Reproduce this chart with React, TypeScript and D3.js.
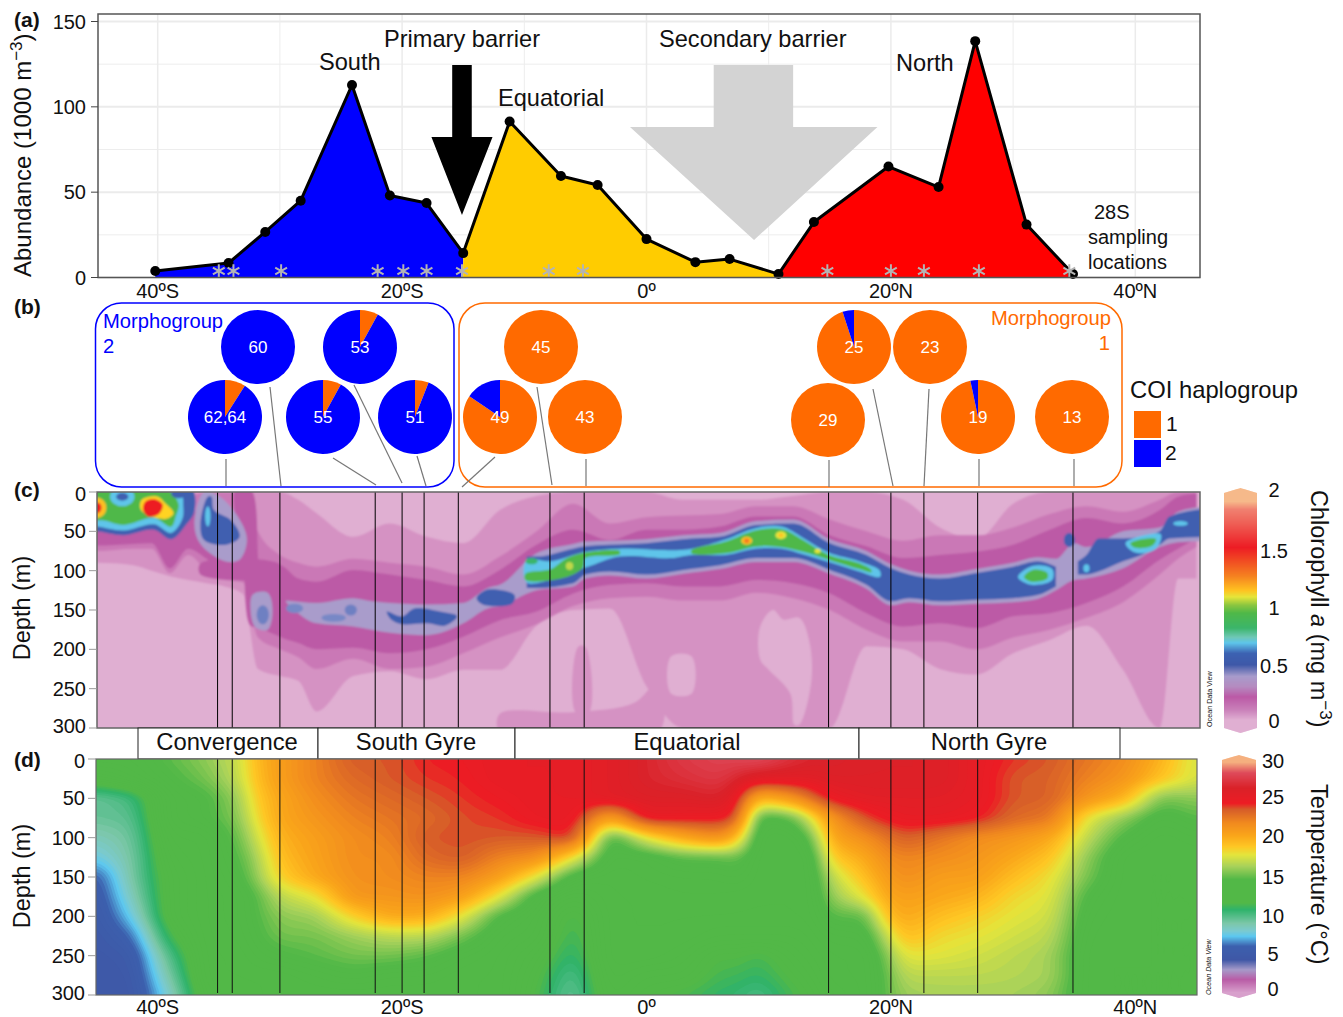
import React from "react";
import * as d3 from "d3";

const FONT = "'Liberation Sans', Arial, sans-serif";
const BLUE = "#0000FF";
const ORANGE = "#FF6A00";

// Panel (a): abundance per station
const abundanceLat = [-40.2, -34.2, -31.2, -28.3, -24.1, -21, -18, -15, -11.2, -7, -4, 0, 4, 6.8, 10.8, 13.7, 19.8, 23.9, 26.9, 31.1, 34.9];
const abundanceVal = [3.8, 8.5, 26.7, 45, 112.8, 48, 43.6, 14.3, 91.4, 59.5, 54.2, 22.5, 9, 10.8, 2, 32.5, 65, 53, 138.5, 31, 2];
const groupBreaks = [{ from: 0, to: 7, color: "#0000FF" }, { from: 7, to: 14, color: "#FFCC00" }, { from: 14, to: 20, color: "#FF0000" }];
const sampledLat = [-35, -33.8, -29.9, -22, -19.9, -18, -15.1, -8, -5.2, 14.8, 20, 22.7, 27.2, 34.6];
const stationLinesC = [-35.1, -33.9, -30, -22.2, -20, -18.2, -15.4, -7.9, -5.1, 14.9, 20, 22.7, 27.1, 34.9];
const primaryArrow: [number, number][] = [[-15.9, 124.5], [-14.3, 124.5], [-14.3, 82.3], [-12.6, 82.3], [-15.1, 36.6], [-17.6, 82.3], [-15.9, 82.3]];
const secondaryArrow: [number, number][] = [[5.5, 124.5], [12, 124.5], [12, 88.2], [18.9, 88.2], [8.8, 22], [-1.35, 88.2], [5.5, 88.2]];
const abundanceTicks = [0, 50, 100, 150];
const abundanceMinor = [25, 75, 125];
const latTicks = [-40, -20, 0, 20, 40];
const latTickLabels = ["40ºS", "20ºS", "0º", "20ºN", "40ºN"];
const latMinor = [-30, -10, 10, 30];
const depthTicks = [0, 50, 100, 150, 200, 250, 300];

// Panel (b): haplogroup pies (share of haplogroup 1, haplogroup 2)
const pieLabels = ["60", "53", "62,64", "55", "51", "45", "49", "43", "25", "23", "29", "19", "13"];
const pieShare1 = [0, 0.08, 0.09, 0.08, 0.06, 1, 0.845, 1, 0.95, 1, 1, 0.967, 1];
const pieCx = [258, 360, 225, 323, 415, 541, 500, 585, 854, 930, 828, 978, 1072];
const pieCy = [347, 347, 417, 417, 417, 347, 417, 417, 347, 347, 420, 417, 417];
const leaders = [
  [226, 459, 226, 486], [270, 387, 281, 486], [354, 385, 402, 483], [333, 458, 376, 485], [417, 456, 426, 486],
  [495, 457, 462, 487], [537, 387, 552, 485], [586, 459, 586, 486], [829, 460, 829, 487], [873, 389, 893, 486],
  [929, 389, 924, 486], [979, 459, 979, 486], [1074, 459, 1074, 486],
];

// Panel (c): chlorophyll contour ribbons (depth in m at each latitude)
const chlLat = [-46, -45, -42, -40.5, -39, -37.5, -36, -34.5, -33, -31.8, -30, -28.5, -27, -24, -21, -18, -15, -12, -9, -6, -3, 0, 3, 6, 9, 12, 15, 18, 21, 24, 27, 30, 33, 36, 39, 42, 43.5, 45];
const chlL1Top = [0, 0, 0, 0, 0, 0, 0, 0, 0, 0, 0, 10, 27, 57, 40, 57, 65, 23, 5, 0, 0, 0, 10, 10, 10, 5, 0, 0, 10, 45, 60, 15, 0, 0, 0, 0, 0, 0];
const chlL1Bot = [90, 90, 93, 100, 107, 112, 116, 120, 130, 225, 234, 240, 279, 234, 228, 238, 226, 226, 170, 150, 148, 247, 300, 300, 300, 300, 300, 196, 200, 225, 232, 205, 188, 170, 226, 300, 110, 110];
const chlL2Top = [5, 5, 5, 5, 5, 5, 0, 0, 0, 50, 80, 90, 95, 85, 90, 95, 105, 82, 50, 15, 40, 32, 30, 28, 18, 18, 35, 50, 62, 55, 55, 45, 28, 18, 25, 10, 0, 0];
const chlL2Bot = [75, 75, 72, 72, 103, 80, 100, 112, 115, 185, 200, 210, 225, 212, 225, 222, 205, 185, 168, 145, 135, 133, 138, 138, 128, 135, 150, 175, 190, 190, 200, 185, 175, 160, 140, 105, 85, 70];
const chlL3Top = [30, 30, 30, 30, 30, 30, 15, 20, 70, 92, 93, 110, 114, 99, 105, 112, 120, 99, 67, 48, 61, 48, 48, 44, 31, 31, 55, 69, 84, 80, 76, 67, 48, 33, 40, 23, 6, 2];
const chlL3Bot = [68, 68, 66, 65, 97, 72, 85, 105, 107, 167, 184, 192, 200, 198, 205, 200, 184, 163, 152, 129, 118, 116, 120, 120, 112, 116, 129, 154, 171, 167, 173, 158, 154, 141, 120, 86, 72, 59];

const lavLat = [-29.5, -27, -24, -22.5, -21, -18, -15, -13, -12, -9, -6, -5, -3, 0, 3, 6, 9, 12, 15, 18, 20, 21.5, 24, 27, 30, 32, 33.5, 35, 36, 39, 42, 43.5, 46];
const lavTop = [138, 141, 135, 139, 141, 143, 141, 122, 118, 78, 66, 63, 62, 60, 55, 52, 37, 35, 60, 75, 92, 100, 105, 98, 90, 83, 85, 65, 70, 50, 45, 25, 18];
const lavBot = [140, 167, 171, 175, 179, 182, 167, 148, 145, 125, 120, 110, 106, 110, 104, 98, 89, 89, 104, 123, 144, 140, 144, 142, 140, 136, 125, 112, 110, 97, 70, 64, 62];

const blueWLat = [-9.8, -9, -6, -5, -3, 0, 3, 6, 9, 12, 15, 18, 20, 21.5, 24, 27, 30, 32, 33.5];
const blueWTop = [82, 82, 72, 69, 67, 65, 60, 57, 42, 40, 65, 80, 97, 105, 110, 103, 95, 88, 95];
const blueWBot = [122, 122, 116, 105, 101, 105, 99, 93, 84, 84, 99, 118, 139, 135, 139, 137, 135, 131, 120];
const blueELat = [35.3, 36, 37, 39, 40.5, 42, 42.8, 46];
const blueETop = [88, 80, 59, 59, 57, 50, 31, 21];
const blueEBot = [105, 105, 101, 88, 80, 67, 59, 57];

const gyreBlob: [number, number][] = [[-21.25, 152], [-20, 158], [-19, 148], [-16.9, 152], [-15.5, 158], [-16.5, 170], [-17.9, 167], [-20, 168], [-20.9, 162]];
const tinyBlob: [number, number][] = [[-13.9, 135], [-13, 124], [-10.8, 131], [-11, 142], [-13.4, 143]];
const lavHalo: [number, number][] = [[-36.2, 0], [-37, 40], [-36.5, 66], [-34.5, 88], [-33.3, 86], [-32.7, 60], [-33.5, 30], [-35, 5]];
const bigBlue: [number, number][] = [[-35.9, 6], [-36.5, 40], [-36.2, 61], [-34.4, 67], [-33.3, 57], [-34, 36], [-35.4, 23], [-35.6, 6]];
const magentaStrip: [number, number][] = [[-33.6, -4], [-32.4, -4], [-31.8, 80], [-31.8, 170], [-32.4, 170], [-33, 90]];
const magentaShelf: [number, number][] = [[-36.5, 91], [-30, 92], [-30, 106], [-36.5, 105]];
const lavGyreDot: [number, number][] = [[-32.2, 130], [-31, 128], [-30.6, 150], [-31, 175], [-32, 172], [-32.4, 150]];

const topLeftBlue: [number, number][] = [[-46, -6], [-37.3, -6], [-37, 25], [-37.6, 40], [-38.9, 60], [-40.3, 48], [-42.8, 55], [-45, 50], [-46, 50]];
const topLeftCyan: [number, number][] = [[-46, -6], [-38.3, -6], [-37.9, 20], [-38, 35], [-38.9, 52], [-40.3, 41], [-42.8, 49], [-45, 44], [-46, 44]];
const topLeftGreen: [number, number][] = [[-46, -6], [-39.5, -6], [-38.3, 15], [-38.5, 30], [-38.9, 44], [-40.3, 33], [-42.8, 42], [-44.5, 36], [-46, 36]];
const topLeftYellow: [number, number][] = [[-41.3, 10], [-40, 6], [-39.4, 14], [-38.7, 27], [-39.3, 34], [-40.7, 30], [-41.4, 22]];
const topLeftRed: [number, number][] = [[-41, 12], [-40.3, 9], [-39.6, 16], [-39.9, 28], [-40.8, 31], [-41.2, 22]];

const eqCyan: [number, number][] = [[-9.8, 86], [-7.8, 88], [-5, 76], [-2.2, 72], [2, 74], [3.7, 72], [6.5, 60], [8.9, 46], [11.05, 44], [12.8, 58], [14.9, 77], [17.4, 88], [19.1, 100], [19.1, 108], [17.4, 101], [14.9, 89], [12.8, 79], [11.05, 72], [8.9, 72], [6.5, 80], [3.7, 80], [2, 84], [-2.2, 82], [-5, 96], [-9.8, 115]];
const eqGreen: [number, number][] = [[3.68, 74], [6.5, 63], [8.9, 49], [11.05, 47], [12.8, 61], [14.9, 80], [17.4, 90.5], [18.4, 99], [18.4, 102], [17.4, 98], [14.9, 86], [12.8, 76], [10.7, 69.5], [8.9, 69.5], [6.5, 78], [3.68, 78]];
const eqGreenW: [number, number][] = [[-9.9, 104], [-7.8, 98], [-6.5, 84], [-5, 77], [-2.2, 75], [-2.2, 79], [-5, 84], [-5.2, 96], [-6.5, 108], [-9.9, 112]];
const northCyan: [number, number][] = [[30.4, 108], [31.6, 94], [33.2, 98], [33.2, 112], [31.5, 118]];
const northGreen: [number, number][] = [[30.9, 108], [31.6, 99], [32.8, 103], [32.8, 110], [31.5, 114]];
const farNorthCyan: [number, number][] = [[39.2, 65], [41, 54], [42.1, 54], [41.7, 72], [40, 77]];
const farNorthGreen: [number, number][] = [[39.6, 65], [41, 59], [41.7, 60], [41.4, 68], [40, 71]];

type Dot = [number, number, number, number, string];
const chlDots: Dot[] = [
  [-31.4, 156, 0.5, 12, "#6E80C2"], [-28.8, 148, 0.7, 6, "#7888C6"], [-25.6, 160, 1, 5, "#7888C6"], [-24.2, 150, 0.5, 7, "#6E80C2"],
  [-35.9, 31, 0.22, 13, "#5EC5EA"], [-42.9, 6, 1, 12, "#5EC5EA"], [-42.9, 6, 0.5, 5, "#3F5FB0"], [-38.3, 2, 0.6, 6, "#3F5FB0"],
  [-45, 20, 0.8, 13, "#FFC020"], [-45, 20, 0.4, 7, "#ED1C24"],
  [34.6, 61, 0.45, 9, "#3F5FB0"], [36, 97, 0.25, 5, "#5EC5EA"], [43.7, 40, 0.6, 3, "#5EC5EA"],
  [-9.4, 88, 0.5, 4, "#3BB56A"], [-6.3, 94, 0.3, 5, "#BFD84A"],
  [8.2, 62, 0.45, 5, "#FFC020"], [8.2, 62, 0.22, 3, "#F47A20"], [11, 55, 0.45, 5, "#E5E53A"], [11, 55, 0.2, 2.5, "#FFC020"], [14, 75, 0.25, 3, "#E5E53A"],
];
const lightPatches: [number, number][][] = [
  [[9.3, 171], [10.35, 150], [11.2, 162], [12.5, 160], [13.3, 188], [13.5, 239], [12.5, 296], [12.1, 296], [11.76, 256], [10, 226], [9.3, 213]],
  [[2, 209], [3.7, 209], [3.7, 256], [2, 256]],
];
const pinkPatches: [number, number][][] = [
  [[-12, 282], [-6, 280], [-1, 268], [1, 240], [1, 305], [-12, 305]],
  [[-5.6, 197], [-5, 197], [-4.7, 280], [-5.8, 280]],
];

// Panel (d): temperature (deg C); one profile per listed latitude
const tempDepths = [0, 25, 50, 75, 100, 125, 150, 175, 200, 225, 250, 275, 300];
const tempLat = [-45, -42, -39, -36, -33, -32.2, -30, -27, -24, -21, -18, -15, -12, -9, -6, -3, 0, 3, 6, 7.5, 9, 12, 13.5, 15, 18, 19.5, 21, 24, 27, 30, 33, 36, 39, 42, 45];
const tempProfiles: number[][] = [
  [13.5, 12, 9, 9, 8, 7, 5, 4.5, 4.3, 4.2, 4.1, 4, 4],
  [13.5, 13, 9.8, 9.2, 8.8, 8.6, 8.6, 8, 7, 5.5, 4.5, 4.2, 4],
  [14.5, 14, 13.5, 13.5, 13, 12.5, 12, 12, 12, 11, 9.5, 8.5, 7.5],
  [15.5, 15, 14, 14, 13, 13, 13, 13, 13, 13, 13, 13, 12.5],
  [17, 16.8, 16, 15.5, 15, 14.5, 14, 13.5, 13.5, 13.3, 13, 13, 13],
  [19, 18.7, 18.2, 17.5, 16.5, 15.5, 15, 14, 14, 13.8, 13.5, 13, 13],
  [20.5, 20.5, 20, 20, 19.5, 19, 18.3, 16.5, 15.5, 15, 14, 13, 13],
  [22, 22, 21.5, 21, 20.5, 20.3, 20, 17.6, 15.8, 15, 14.5, 13.5, 13],
  [23.5, 23, 22.5, 22, 21.5, 21.5, 21.3, 21, 18.3, 15.8, 15, 14, 13],
  [23.5, 23.5, 23, 22.5, 22, 21.5, 21.5, 21, 20, 16.5, 15, 13.5, 13],
  [24.3, 24, 23.5, 23, 23.5, 23, 22, 21.3, 19.8, 16.5, 14.5, 13.5, 13],
  [24.5, 24.3, 24, 23.7, 23.7, 23.5, 22, 20.5, 17.5, 15, 13.5, 13, 13],
  [25, 25, 24.5, 24, 23.5, 22, 20.5, 17.5, 14, 13.2, 13, 13, 13],
  [25, 25, 25, 24.8, 23.5, 21.5, 17.5, 13.5, 13, 12.8, 12, 11.5, 11.2],
  [25, 25, 25, 25, 24.3, 17.8, 13.5, 12, 10.8, 10.4, 10, 9.3, 8.8],
  [25.5, 25.5, 25.5, 20, 13.5, 13.3, 13, 13, 13, 13, 13, 12.8, 12.5],
  [26.5, 26.5, 26, 25, 17.5, 13.5, 13.3, 13, 13, 13, 13, 12, 11.5],
  [27.5, 27, 26, 24.7, 20, 14.5, 13.5, 13.2, 13, 13, 12.5, 12, 11],
  [28, 27.5, 26.5, 24.6, 21.5, 14.5, 13.5, 13.2, 13, 12.5, 11.2, 10.8, 10.3],
  [28, 26.5, 25, 24, 19, 15, 14, 13, 13, 12.5, 11.5, 10.8, 10.2],
  [28.5, 25.5, 19, 13.5, 13, 13, 13, 13, 13, 12.5, 10.8, 10.3, 9.5],
  [27, 25.5, 21, 14.5, 13, 13, 13, 13, 13, 12.5, 12, 11.5, 11],
  [26.5, 25.5, 23, 17.5, 14.5, 13, 13, 13, 13, 12.8, 12.5, 12, 11.5],
  [26.5, 26, 24.7, 21, 20, 18.5, 16.5, 15.5, 14.5, 13.5, 13, 13, 12.5],
  [26, 26, 25.5, 23.8, 21.5, 20, 19.2, 17.8, 14.5, 13.5, 13, 13, 13],
  [26, 26, 25.5, 24.5, 22.5, 21.5, 20.5, 20, 19, 16.5, 15, 14.5, 14.5],
  [26, 26, 25.5, 25, 23.5, 22, 21.5, 20.5, 20, 19.2, 17.6, 16.5, 15.8],
  [26, 26, 25.5, 25, 22.5, 21.5, 20.5, 20, 19, 18, 17.4, 16.5, 16],
  [25, 25, 25, 24.5, 21.5, 21, 20.5, 19.5, 18.3, 17.6, 17, 16.5, 16],
  [24, 23.5, 23.5, 23, 21, 20, 19, 18, 17.5, 17, 16.5, 16.3, 16],
  [23.5, 23.3, 23.3, 22.5, 20, 18.8, 17.8, 17.4, 17, 16.5, 16, 16, 15.5],
  [22.5, 22, 21, 17.5, 16.5, 15.5, 15, 14, 13.5, 13.2, 13, 13, 13],
  [21.5, 21, 19.5, 15.5, 14, 13, 13, 13, 13, 13, 13, 13, 13],
  [19.5, 18.8, 15, 13.5, 13, 13, 13, 13, 13, 13, 13, 13, 13],
  [17, 17, 15.5, 14.5, 13.5, 13, 13, 13, 13, 13, 13, 13, 13],
];

// Colour bars
const chlStops = [-0.1, 0.0, 0.09, 0.2, 0.29, 0.38, 0.48, 0.58, 0.67, 0.72, 0.8, 0.93, 1.0, 1.07, 1.13, 1.25, 1.5, 1.71, 1.83, 1.9, 2.1];
const chlColors = ["#E0AFD2", "#E0AFD2", "#C97FB9", "#BB59A6", "#B58BC0", "#A79BCB", "#3E58A8", "#3C62B2", "#5EC5EA", "#6FC7B5", "#3BB56A", "#4FB848", "#8CC63F", "#E5E53A", "#FFC020", "#F58220", "#ED1C24", "#EF5F55", "#F08070", "#F6B98A", "#F6B98A"];
const tempStops = [-1.5, -0.6, 1.1, 2.4, 3.7, 5.5, 6.8, 7.5, 8.5, 10.3, 11.2, 14.3, 16, 17.5, 18.6, 20, 21.7, 23.5, 24.3, 26.3, 28.3, 29.7, 31];
const tempColors = ["#D8A0CC", "#D8A0CC", "#B95CA6", "#A69AC9", "#3F57A6", "#3C60AE", "#5CC8F0", "#7BCAD0", "#7CC7A8", "#2FB36B", "#52B847", "#52B847", "#A7D15A", "#E3E53C", "#FEC724", "#FAA61A", "#F18A1E", "#D65C29", "#ED1C24", "#DA2128", "#DE4A5A", "#F5B07F", "#F5B07F"];
const chlBarLabels = ["2", "1.5", "1", "0.5", "0"];
const chlBarLabelY = [490, 551, 608, 666, 721];
const tempBarLabels = ["30", "25", "20", "15", "10", "5", "0"];
const tempBarLabelY = [761, 797, 836, 877, 916, 954, 989];

const regions = [
  { name: "Convergence", x0: 138, x1: 318, cx: 227 },
  { name: "South Gyre", x0: 318, x1: 515, cx: 416 },
  { name: "Equatorial", x0: 515, x1: 859, cx: 687 },
  { name: "North Gyre", x0: 859, x1: 1120, cx: 989 },
];

const x = d3.scaleLinear().domain([0, 20]).range([646.5, 890.9]);
const yA = d3.scaleLinear().domain([0, 150]).range([277.5, 21.5]);
const yC = d3.scaleLinear().domain([0, 300]).range([492, 728]);
const yD = d3.scaleLinear().domain([0, 300]).range([759, 995]);
const chlColor = d3.scaleLinear<string>().domain(chlStops).range(chlColors);
const tempColor = d3.scaleLinear<string>().domain(tempStops).range(tempColors);

function band(lats: number[], top: number[], bot: number[]) {
  const idx = d3.range(lats.length);
  return d3.area<number>().x((i) => x(lats[i])).y0((i) => yC(top[i])).y1((i) => yC(bot[i])).curve(d3.curveMonotoneX)(idx) || "";
}
function blob(pts: [number, number][]) {
  return d3.line<[number, number]>().x((p) => x(p[0])).y((p) => yC(p[1])).curve(d3.curveCatmullRomClosed.alpha(0.5))(pts) || "";
}

function tempContours() {
  const nx = 361; // 0.25 degree render grid
  const ny = 121; // 2.5 m render grid
  const vals = new Float64Array(nx * ny);
  const latAt = (i: number) => -45 + i * 0.25;
  for (let j = 0; j < ny; j++) {
    const depth = j * 2.5;
    const j0 = Math.min(Math.floor(depth / 25), tempDepths.length - 2);
    const ty = (depth - tempDepths[j0]) / 25;
    for (let i = 0; i < nx; i++) {
      const lat = latAt(i);
      const i0 = Math.max(0, Math.min(d3.bisectRight(tempLat, lat) - 1, tempLat.length - 2));
      const tx = (lat - tempLat[i0]) / (tempLat[i0 + 1] - tempLat[i0]);
      const a = tempProfiles[i0][j0] * (1 - ty) + tempProfiles[i0][j0 + 1] * ty;
      const b = tempProfiles[i0 + 1][j0] * (1 - ty) + tempProfiles[i0 + 1][j0 + 1] * ty;
      vals[j * nx + i] = a * (1 - tx) + b * tx;
    }
  }
  d3.blur2({ data: vals, width: nx, height: ny }, 2.5, 1.6);
  const thresholds = d3.range(3, 30, 0.25);
  const gen = d3.contours().size([nx, ny]).thresholds(thresholds);
  const sx = d3.scaleLinear().domain([0.5, nx - 0.5]).range([x(-45.1), x(45.1)]);
  const sy = d3.scaleLinear().domain([0.5, ny - 0.5]).range([yD(0), yD(300)]);
  const path = d3.geoPath(d3.geoTransform({
    point(px: number, py: number) { (this as any).stream.point(sx(px), sy(py)); },
  }));
  return gen(Array.from(vals)).map((c) => ({ v: c.value, d: path(c as any) || "" }));
}

function YLabels({ scale, xr }: { scale: d3.ScaleLinear<number, number>; xr: number }) {
  return (
    <g>
      {depthTicks.map((t) => (
        <text key={t} x={xr} y={scale(t) + 7 - (t === 300 ? 2 : 0) + (t === 0 ? 2 : 0)} textAnchor="end" fontSize={20}>{t}</text>
      ))}
      {depthTicks.map((t) => (
        <line key={"m" + t} x1={xr + 3} x2={xr + 11} y1={scale(t)} y2={scale(t)} stroke="#999" strokeWidth={1} />
      ))}
    </g>
  );
}

function ColorBar({ x0, x1, top, bottom, toValue, color }: { x0: number; x1: number; top: number; bottom: number; toValue: (y: number) => number; color: (v: number) => string }) {
  const cap = 5;
  const clipId = `bar${top}`;
  const ys = d3.range(top, bottom, 1);
  const mid = (x0 + x1) / 2;
  return (
    <g>
      <clipPath id={clipId}>
        <polygon points={`${x0},${top + cap} ${mid},${top} ${x1},${top + cap} ${x1},${bottom - cap} ${mid},${bottom} ${x0},${bottom - cap}`} />
      </clipPath>
      <g clipPath={`url(#${clipId})`}>
        {ys.map((yy) => <rect key={yy} x={x0} y={yy} width={x1 - x0} height={1.5} fill={color(toValue(yy + 0.5))} />)}
      </g>
    </g>
  );
}

export default function App() {
  const pieGen = d3.pie<number>().sort(null);
  const arcGen = d3.arc<d3.PieArcDatum<number>>().innerRadius(0).outerRadius(37);
  const lineA = d3.line<number>().x((i) => x(abundanceLat[i])).y((i) => yA(abundanceVal[i]));
  const areaA = d3.area<number>().x((i) => x(abundanceLat[i])).y0(yA(0)).y1((i) => yA(abundanceVal[i]));
  const star = d3.symbol(d3.symbolAsterisk, 130)() || "";
  const tc = tempContours();
  const poly = (p: [number, number][]) => p.map((q) => `${x(q[0])},${yA(q[1])}`).join(" ");

  return (
    <svg width={1343} height={1017} style={{ position: "absolute", left: 0, top: 0, background: "#fff" }} fontFamily={FONT} fill="#111">
      <defs>
        <clipPath id="clipC"><rect x={97} y={492} width={1103} height={236} /></clipPath>
        <clipPath id="clipD"><rect x={96} y={759} width={1101} height={236} /></clipPath>
        <filter id="soft" x="-2%" y="-2%" width="104%" height="104%"><feGaussianBlur stdDeviation={1.2} /></filter>
      </defs>

      {/* Panel a */}
      <g>
        {abundanceMinor.map((t) => <line key={t} x1={98} x2={1200} y1={yA(t)} y2={yA(t)} stroke="#EDEDED" strokeWidth={1} />)}
        {abundanceTicks.map((t) => <line key={t} x1={98} x2={1200} y1={yA(t)} y2={yA(t)} stroke="#EBEBEB" strokeWidth={2} />)}
        {latMinor.map((t) => <line key={t} x1={x(t)} x2={x(t)} y1={14} y2={277} stroke="#EDEDED" strokeWidth={1} />)}
        {latTicks.map((t) => <line key={t} x1={x(t)} x2={x(t)} y1={14} y2={277} stroke="#EBEBEB" strokeWidth={1.5} />)}
        <polygon points={poly(secondaryArrow)} fill="#D3D3D3" />
        {groupBreaks.map((g) => (
          <path key={g.color} d={areaA(d3.range(g.from, g.to + 1)) || ""} fill={g.color} />
        ))}
        <path d={lineA(d3.range(abundanceLat.length)) || ""} fill="none" stroke="#000" strokeWidth={3} strokeLinejoin="round" />
        {abundanceLat.map((l, i) => <circle key={i} cx={x(l)} cy={yA(abundanceVal[i])} r={5} fill="#000" />)}
        <polygon points={poly(primaryArrow)} fill="#000" />
        {sampledLat.map((l, i) => (
          <path key={i} d={star} transform={`translate(${x(l)},271)`} fill="none" stroke="#B4B4B4" strokeWidth={2} />
        ))}
        <rect x={98} y={14} width={1102} height={263.5} fill="none" stroke="#555" strokeWidth={1.5} />
        {abundanceTicks.map((t) => (
          <g key={t}>
            <line x1={91} x2={98} y1={yA(t)} y2={yA(t)} stroke="#444" strokeWidth={1} />
            <text x={86} y={yA(t) + 7} textAnchor="end" fontSize={20}>{t}</text>
          </g>
        ))}
        {latTicks.map((t, i) => (
          <text key={t} x={x(t)} y={298} textAnchor="middle" fontSize={20}>{latTickLabels[i]}</text>
        ))}
        <text transform="translate(31,277) rotate(-90)" fontSize={24}>Abundance (1000 m<tspan dy={-9} fontSize={17}>−3</tspan><tspan dy={9}>)</tspan></text>
        <text x={384} y={47} fontSize={23.6}>Primary barrier</text>
        <text x={319} y={70} fontSize={23.6}>South</text>
        <text x={498} y={106} fontSize={23.6}>Equatorial</text>
        <text x={659} y={47} fontSize={23.6}>Secondary barrier</text>
        <text x={896} y={71} fontSize={23.6}>North</text>
        <text x={1094} y={219} fontSize={20}>28S</text>
        <text x={1088} y={244} fontSize={20}>sampling</text>
        <text x={1088} y={269} fontSize={20}>locations</text>
      </g>

      {/* Panel labels */}
      {[["(a)", 27], ["(b)", 314], ["(c)", 497], ["(d)", 767]].map(([t, yy]) => (
        <text key={t as string} x={14} y={yy as number} fontSize={21} fontWeight="bold">{t}</text>
      ))}

      {/* Panel b */}
      <g>
        <rect x={95.5} y={303} width={358.5} height={184} rx={26} fill="none" stroke={BLUE} strokeWidth={1.5} />
        <rect x={459} y={303} width={663} height={184} rx={26} fill="none" stroke={ORANGE} strokeWidth={1.5} />
        {leaders.map((l, i) => <line key={i} x1={l[0]} y1={l[1]} x2={l[2]} y2={l[3]} stroke="#777" strokeWidth={1.2} />)}
        {pieLabels.map((label, i) => {
          const arcs = pieGen([pieShare1[i], 1 - pieShare1[i]]);
          return (
            <g key={label} transform={`translate(${pieCx[i]},${pieCy[i]})`}>
              {arcs.map((a, j) => <path key={j} d={arcGen(a) || ""} fill={j === 0 ? ORANGE : BLUE} />)}
              <text y={6} textAnchor="middle" fontSize={17} fill="#fff">{label}</text>
            </g>
          );
        })}
        <text x={103} y={328} fontSize={20.2} fill={BLUE}>Morphogroup</text>
        <text x={103} y={353} fontSize={20.2} fill={BLUE}>2</text>
        <text x={1111} y={325} fontSize={20.2} fill={ORANGE} textAnchor="end">Morphogroup</text>
        <text x={1110} y={350} fontSize={20.2} fill={ORANGE} textAnchor="end">1</text>
        <text x={1130} y={398} fontSize={23.8}>COI haplogroup</text>
        <rect x={1134} y={411} width={27} height={27} fill={ORANGE} />
        <rect x={1134} y={440} width={27} height={27} fill={BLUE} />
        <text x={1166} y={431} fontSize={21}>1</text>
        <text x={1165} y={460} fontSize={21}>2</text>
      </g>

      {/* Panel c */}
      <g clipPath="url(#clipC)">
        <rect x={97} y={492} width={1103} height={236} fill="#E0AFD2" />
        <g filter="url(#soft)">
          <path d={band(chlLat, chlL1Top, chlL1Bot)} fill="#D592C3" />
          {pinkPatches.map((p, i) => <path key={i} d={blob(p)} fill="#D592C3" />)}
          {lightPatches.map((p, i) => <path key={i} d={blob(p)} fill="#E0AFD2" />)}
          <path d={band(chlLat, chlL2Top, chlL2Bot)} fill="#CA78B6" />
          <path d={band(chlLat, chlL3Top, chlL3Bot)} fill="#BC5AA6" />
          <path d={blob(magentaStrip)} fill="#BC5AA6" />
          <path d={blob(magentaShelf)} fill="#BC5AA6" />
          <path d={blob(lavHalo)} fill="#A99CCB" />
          <path d={blob(lavGyreDot)} fill="#A99CCB" />
          <path d={band(lavLat, lavTop, lavBot)} fill="#A99CCB" />
          <path d={blob(bigBlue)} fill="#3F5FB0" />
          <path d={blob(gyreBlob)} fill="#3F5FB0" />
          <path d={blob(tinyBlob)} fill="#3F5FB0" />
          <path d={band(blueWLat, blueWTop, blueWBot)} fill="#3F5FB0" />
          <path d={band(blueELat, blueETop, blueEBot)} fill="#3F5FB0" />
          <path d={blob(topLeftBlue)} fill="#3F5FB0" />
          <path d={blob(topLeftCyan)} fill="#5EC5EA" />
          <path d={blob(topLeftGreen)} fill="#4FB848" />
          <path d={blob(eqCyan)} fill="#5EC5EA" />
          <path d={blob(northCyan)} fill="#5EC5EA" />
          <path d={blob(farNorthCyan)} fill="#5EC5EA" />
          <path d={blob(eqGreen)} fill="#4FB848" />
          <path d={blob(eqGreenW)} fill="#4FB848" />
          <path d={blob(northGreen)} fill="#4FB848" />
          <path d={blob(farNorthGreen)} fill="#4FB848" />
          <path d={blob(topLeftYellow)} fill="#FFD320" />
          <path d={blob(topLeftRed)} fill="#ED1C24" />
          {chlDots.map((p, i) => (
            <ellipse key={i} cx={x(p[0])} cy={yC(p[1])} rx={x(p[0] + p[2]) - x(p[0])} ry={yC(p[3]) - yC(0)} fill={p[4]} />
          ))}
        </g>
      </g>
      {stationLinesC.map((l, i) => <line key={i} x1={x(l)} x2={x(l)} y1={492} y2={728} stroke="#000" strokeWidth={1} />)}
      <rect x={97} y={492} width={1103} height={236} fill="none" stroke="#666" strokeWidth={1.5} />
      <YLabels scale={yC} xr={86} />
      <text transform={`translate(30,${608}) rotate(-90)`} textAnchor="middle" fontSize={23.5}>Depth (m)</text>
      <text transform="translate(1212,727) rotate(-90)" fontSize={7.2}>Ocean Data View</text>

      {/* Region labels */}
      {regions.map((r) => (
        <g key={r.name}>
          <rect x={r.x0} y={728} width={r.x1 - r.x0} height={31} fill="#fff" stroke="#222" strokeWidth={1} />
          <text x={r.cx} y={750} textAnchor="middle" fontSize={23.8}>{r.name}</text>
        </g>
      ))}

      {/* Panel d */}
      <g clipPath="url(#clipD)">
        <rect x={96} y={759} width={1101} height={236} fill={tempColor(3)} />
        {tc.map((c) => <path key={c.v} d={c.d} fill={tempColor(c.v + 0.12)} />)}
      </g>
      {stationLinesC.map((l, i) => <line key={i} x1={x(l)} x2={x(l)} y1={759} y2={993} stroke="#111" strokeWidth={1} />)}
      <rect x={96} y={759} width={1101} height={236} fill="none" stroke="#666" strokeWidth={1.2} />
      <YLabels scale={yD} xr={85} />
      <text transform={`translate(30,${876}) rotate(-90)`} textAnchor="middle" fontSize={23.5}>Depth (m)</text>
      <text transform="translate(1211,995) rotate(-90)" fontSize={7.2} fontStyle="italic">Ocean Data View</text>
      {latTicks.map((t, i) => (
        <text key={t} x={x(t)} y={1014} textAnchor="middle" fontSize={20}>{latTickLabels[i]}</text>
      ))}

      {/* Colour bars */}
      <ColorBar x0={1224} x1={1257} top={488} bottom={733} toValue={(yy) => (720 - yy) / 115} color={(v) => chlColor(v)} />
      {chlBarLabels.map((t, i) => <text key={t} x={1274} y={chlBarLabelY[i] + 7} textAnchor="middle" fontSize={20}>{t}</text>)}
      <text transform="translate(1311,490) rotate(90)" fontSize={23.5}>Chlorophyll <tspan fontStyle="italic">a</tspan> (mg m<tspan dy={-9} fontSize={17}>−3</tspan><tspan dy={9}>)</tspan></text>

      <ColorBar x0={1222} x1={1256} top={755} bottom={998} toValue={(yy) => (988 - yy) / 7.6} color={(v) => tempColor(v)} />
      {tempBarLabels.map((t, i) => <text key={t} x={1273} y={tempBarLabelY[i] + 7} textAnchor="middle" fontSize={20}>{t}</text>)}
      <text transform="translate(1311,784) rotate(90)" fontSize={23.5}>Temperature (°C)</text>
    </svg>
  );
}
